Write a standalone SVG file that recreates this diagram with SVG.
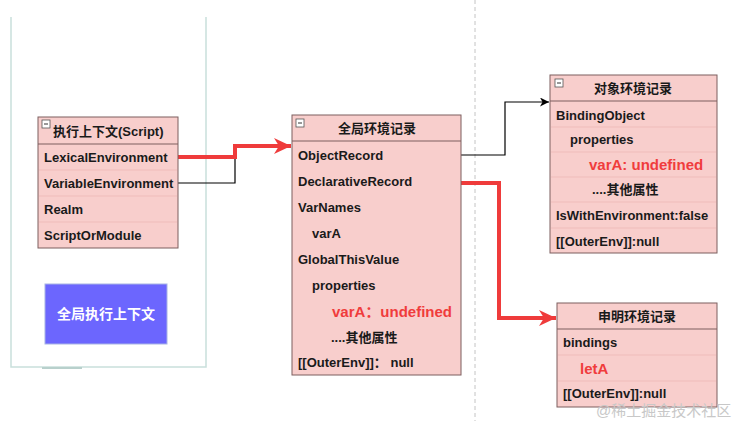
<svg xmlns="http://www.w3.org/2000/svg" width="739" height="421" viewBox="0 0 739 421">
<defs>
<style>
.box{fill:#f8cecc;stroke:#7d5f5f;stroke-width:1}
.hdr{stroke:#7d5f5f;stroke-width:1}
.sep{stroke:#efbcba;stroke-width:1}
text{font-family:"Liberation Sans","Noto Sans CJK SC",sans-serif;font-weight:bold;font-size:13px;fill:#1a1a1a}
.c{text-anchor:middle}
.red{fill:#f03c3c;font-size:15px}
.icon{fill:#ffffff;stroke:#555555;stroke-width:0.8}
.conn-red{fill:none;stroke:#ef3b3b;stroke-width:4}
.conn-blk{fill:none;stroke:#000000;stroke-width:1.2}
</style>
<marker id="ar" markerUnits="userSpaceOnUse" markerWidth="18" markerHeight="16" refX="17" refY="8" orient="auto">
<path d="M0,0 L17,8 L0,16 L5,8 Z" fill="#ef3b3b"/>
</marker>
<marker id="ab" markerUnits="userSpaceOnUse" markerWidth="10" markerHeight="9" refX="9" refY="4.5" orient="auto">
<path d="M0,0 L9,4.5 L0,9 L2.5,4.5 Z" fill="#000000"/>
</marker>
</defs>
<rect width="739" height="421" fill="#ffffff"/>

<g id="panel">
<path d="M11,17 V367 H206 V17" fill="none" stroke="#c9e0dc" stroke-width="1.5"/>
<line x1="42" y1="368" x2="82" y2="368" stroke="#b8d0cc" stroke-width="2"/>
</g>

<line id="divider" x1="475" y1="0" x2="475" y2="421" stroke="#c4c4c4" stroke-width="1" stroke-dasharray="4 3"/>

<g id="connectors">
<path class="conn-blk" d="M178,183 H235 V157"/>
<path class="conn-red" d="M178,157 H235 V146 H291" marker-end="url(#ar)"/>
<path class="conn-blk" d="M461,155 H505 V102 H549" marker-end="url(#ab)"/>
<path class="conn-red" d="M461,183 H499 V318 H556" marker-end="url(#ar)"/>
</g>

<g id="exec-context">
<rect class="box" x="38" y="117" width="140" height="131"/>
<line class="hdr" x1="38" y1="144" x2="178" y2="144"/>
<line class="sep" x1="39" y1="170" x2="177" y2="170"/>
<line class="sep" x1="39" y1="196" x2="177" y2="196"/>
<line class="sep" x1="39" y1="222" x2="177" y2="222"/>
<rect class="icon" x="42" y="120" width="8" height="8"/>
<line x1="44" y1="124" x2="48" y2="124" stroke="#333" stroke-width="1"/>
<text x="53" y="136">执行上下文(Script)</text>
<text x="44" y="162">LexicalEnvironment</text>
<text x="44" y="188">VariableEnvironment</text>
<text x="44" y="214">Realm</text>
<text x="44" y="240">ScriptOrModule</text>
</g>

<g id="global-exec">
<rect x="45" y="284" width="122" height="60" fill="#6c66fe" stroke="#a8b4e4" stroke-width="1"/>
<text class="c" x="106" y="319" style="fill:#ffffff;font-size:14px">全局执行上下文</text>
</g>

<g id="global-env">
<rect class="box" x="292" y="115" width="169" height="260"/>
<line class="hdr" x1="292" y1="141" x2="461" y2="141"/>
<rect class="icon" x="296" y="119" width="8" height="8"/>
<line x1="298" y1="123" x2="302" y2="123" stroke="#333" stroke-width="1"/>
<text class="c" x="377" y="133">全局环境记录</text>
<text x="298" y="160">ObjectRecord</text>
<text x="298" y="186">DeclarativeRecord</text>
<text x="298" y="212">VarNames</text>
<text x="312" y="238">varA</text>
<text x="298" y="264">GlobalThisValue</text>
<text x="312" y="290">properties</text>
<text class="red" x="332" y="317">varA：undefined</text>
<text x="331" y="342">....其他属性</text>
<text x="298" y="367">[[OuterEnv]]： null</text>
</g>

<g id="object-env">
<rect class="box" x="550" y="75" width="167" height="178"/>
<line class="hdr" x1="550" y1="101" x2="717" y2="101"/>
<line class="sep" x1="551" y1="127" x2="716" y2="127"/>
<line class="sep" x1="551" y1="152" x2="716" y2="152"/>
<line class="sep" x1="551" y1="177" x2="716" y2="177"/>
<line class="sep" x1="551" y1="202" x2="716" y2="202"/>
<line class="sep" x1="551" y1="228" x2="716" y2="228"/>
<rect class="icon" x="555" y="79" width="8" height="8"/>
<line x1="557" y1="83" x2="561" y2="83" stroke="#333" stroke-width="1"/>
<text class="c" x="633" y="93">对象环境记录</text>
<text x="556" y="120">BindingObject</text>
<text x="570" y="144">properties</text>
<text class="red" x="589" y="170">varA: undefined</text>
<text x="592" y="194">....其他属性</text>
<text x="556" y="220">IsWithEnvironment:false</text>
<text x="556" y="246">[[OuterEnv]]:null</text>
</g>

<g id="declarative-env">
<rect class="box" x="557" y="303" width="160" height="104"/>
<line class="hdr" x1="557" y1="329" x2="717" y2="329"/>
<line class="sep" x1="558" y1="355" x2="716" y2="355"/>
<line class="sep" x1="558" y1="381" x2="716" y2="381"/>
<text class="c" x="637" y="321">申明环境记录</text>
<text x="563" y="347">bindings</text>
<text class="red" x="580" y="374">letA</text>
<text x="563" y="398">[[OuterEnv]]:null</text>
</g>

<text x="596" y="416" style="fill:#c8c8c8;font-weight:normal;font-size:15px">@稀土掘金技术社区</text>
</svg>
